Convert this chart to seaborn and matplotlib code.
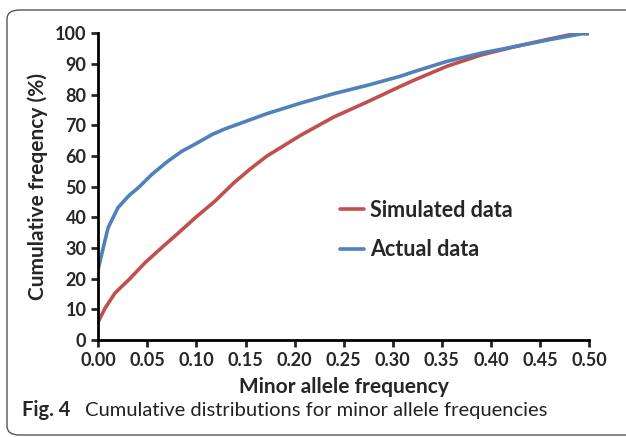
import matplotlib
matplotlib.use("Agg")
import matplotlib.pyplot as plt
from matplotlib.patches import FancyBboxPatch
import seaborn as sns
import pandas as pd

# values
maf_actual = [0.0, 0.005, 0.010, 0.020, 0.031, 0.041, 0.055, 0.071, 0.085, 0.099,
              0.116, 0.129, 0.148, 0.172, 0.206, 0.240, 0.274, 0.308,
              0.321, 0.355, 0.390, 0.424, 0.458, 0.492, 0.500]
cum_actual = [23.2, 30.0, 36.6, 43.1, 47.0, 49.7, 54.1, 58.3, 61.5, 63.9,
              67.0, 68.8, 71.0, 73.8, 77.2, 80.3, 83.0, 86.0,
              87.4, 90.8, 93.5, 95.6, 97.8, 99.8, 99.8]

maf_sim = [0.0, 0.007, 0.017, 0.031, 0.048, 0.065, 0.082, 0.099, 0.119, 0.138,
           0.155, 0.172, 0.206, 0.240, 0.274, 0.308, 0.321, 0.355, 0.390, 0.424,
           0.458, 0.485, 0.490]
cum_sim = [6.0, 10.4, 15.3, 19.6, 25.3, 30.2, 35.0, 39.9, 45.3, 51.2,
           55.8, 60.0, 66.7, 72.7, 77.6, 82.7, 84.6, 89.2, 92.9, 95.6,
           98.0, 99.8, 100.0]

x_ticks = [0.0, 0.05, 0.10, 0.15, 0.20, 0.25, 0.30, 0.35, 0.40, 0.45, 0.50]
y_ticks = list(range(0, 101, 10))

df = pd.concat([
    pd.DataFrame({'maf': maf_sim, 'cum': cum_sim, 'series': 'Simulated data'}),
    pd.DataFrame({'maf': maf_actual, 'cum': cum_actual, 'series': 'Actual data'}),
])

sns.set_style('ticks')
plt.rcParams['font.family'] = ['Lato', 'DejaVu Sans']

fig = plt.figure(figsize=(6.26, 4.37), dpi=100)
ax = fig.add_axes([0.157, 0.222, 0.784, 0.702])

sns.lineplot(data=df, x='maf', y='cum', hue='series', sort=False,
             palette={'Simulated data': '#c0504d', 'Actual data': '#4f81bd'},
             linewidth=2.6, ax=ax, estimator=None)

ax.set_xlim(0, 0.5)
ax.set_ylim(0, 100)
ax.set_xticks(x_ticks)
ax.set_xticklabels([f'{v:.2f}' for v in x_ticks])
ax.set_yticks(y_ticks)
ax.tick_params(axis='both', labelsize=13, width=2, length=5, direction='out')
for lab in ax.get_xticklabels() + ax.get_yticklabels():
    lab.set_fontweight('bold')
for side in ['top', 'right']:
    ax.spines[side].set_visible(False)
for side in ['left', 'bottom']:
    ax.spines[side].set_linewidth(2)
    ax.spines[side].set_color('black')

ax.set_xlabel('Minor allele frequency', fontsize=15, fontweight='bold', labelpad=6)
ax.set_ylabel('Cumulative freqency (%)', fontsize=15, fontweight='bold', labelpad=5)

leg = ax.legend(loc='upper left', bbox_to_anchor=(0.475, 0.485), frameon=False,
                fontsize=15.5, handlelength=1.1, handletextpad=0.3, labelspacing=0.85,
                borderaxespad=0)
for t in leg.get_texts():
    t.set_fontweight('bold')

# rounded frame around the figure panel
frame = FancyBboxPatch((7 / 626, 2 / 437), 640 / 626, 425 / 437,
                       boxstyle='round,pad=0,rounding_size=0.02',
                       transform=fig.transFigure, fill=False,
                       edgecolor='#555555', linewidth=1.0)
fig.patches.append(frame)

fig.text(22 / 626, 1 - 416 / 437, 'Fig. 4', fontsize=14.5, fontweight='bold',
         va='baseline', ha='left')
fig.text(85 / 626, 1 - 416 / 437, 'Cumulative distributions for minor allele frequencies',
         fontsize=14.5, va='baseline', ha='left', color='#222222')

fig.savefig('out.png', dpi=100)
